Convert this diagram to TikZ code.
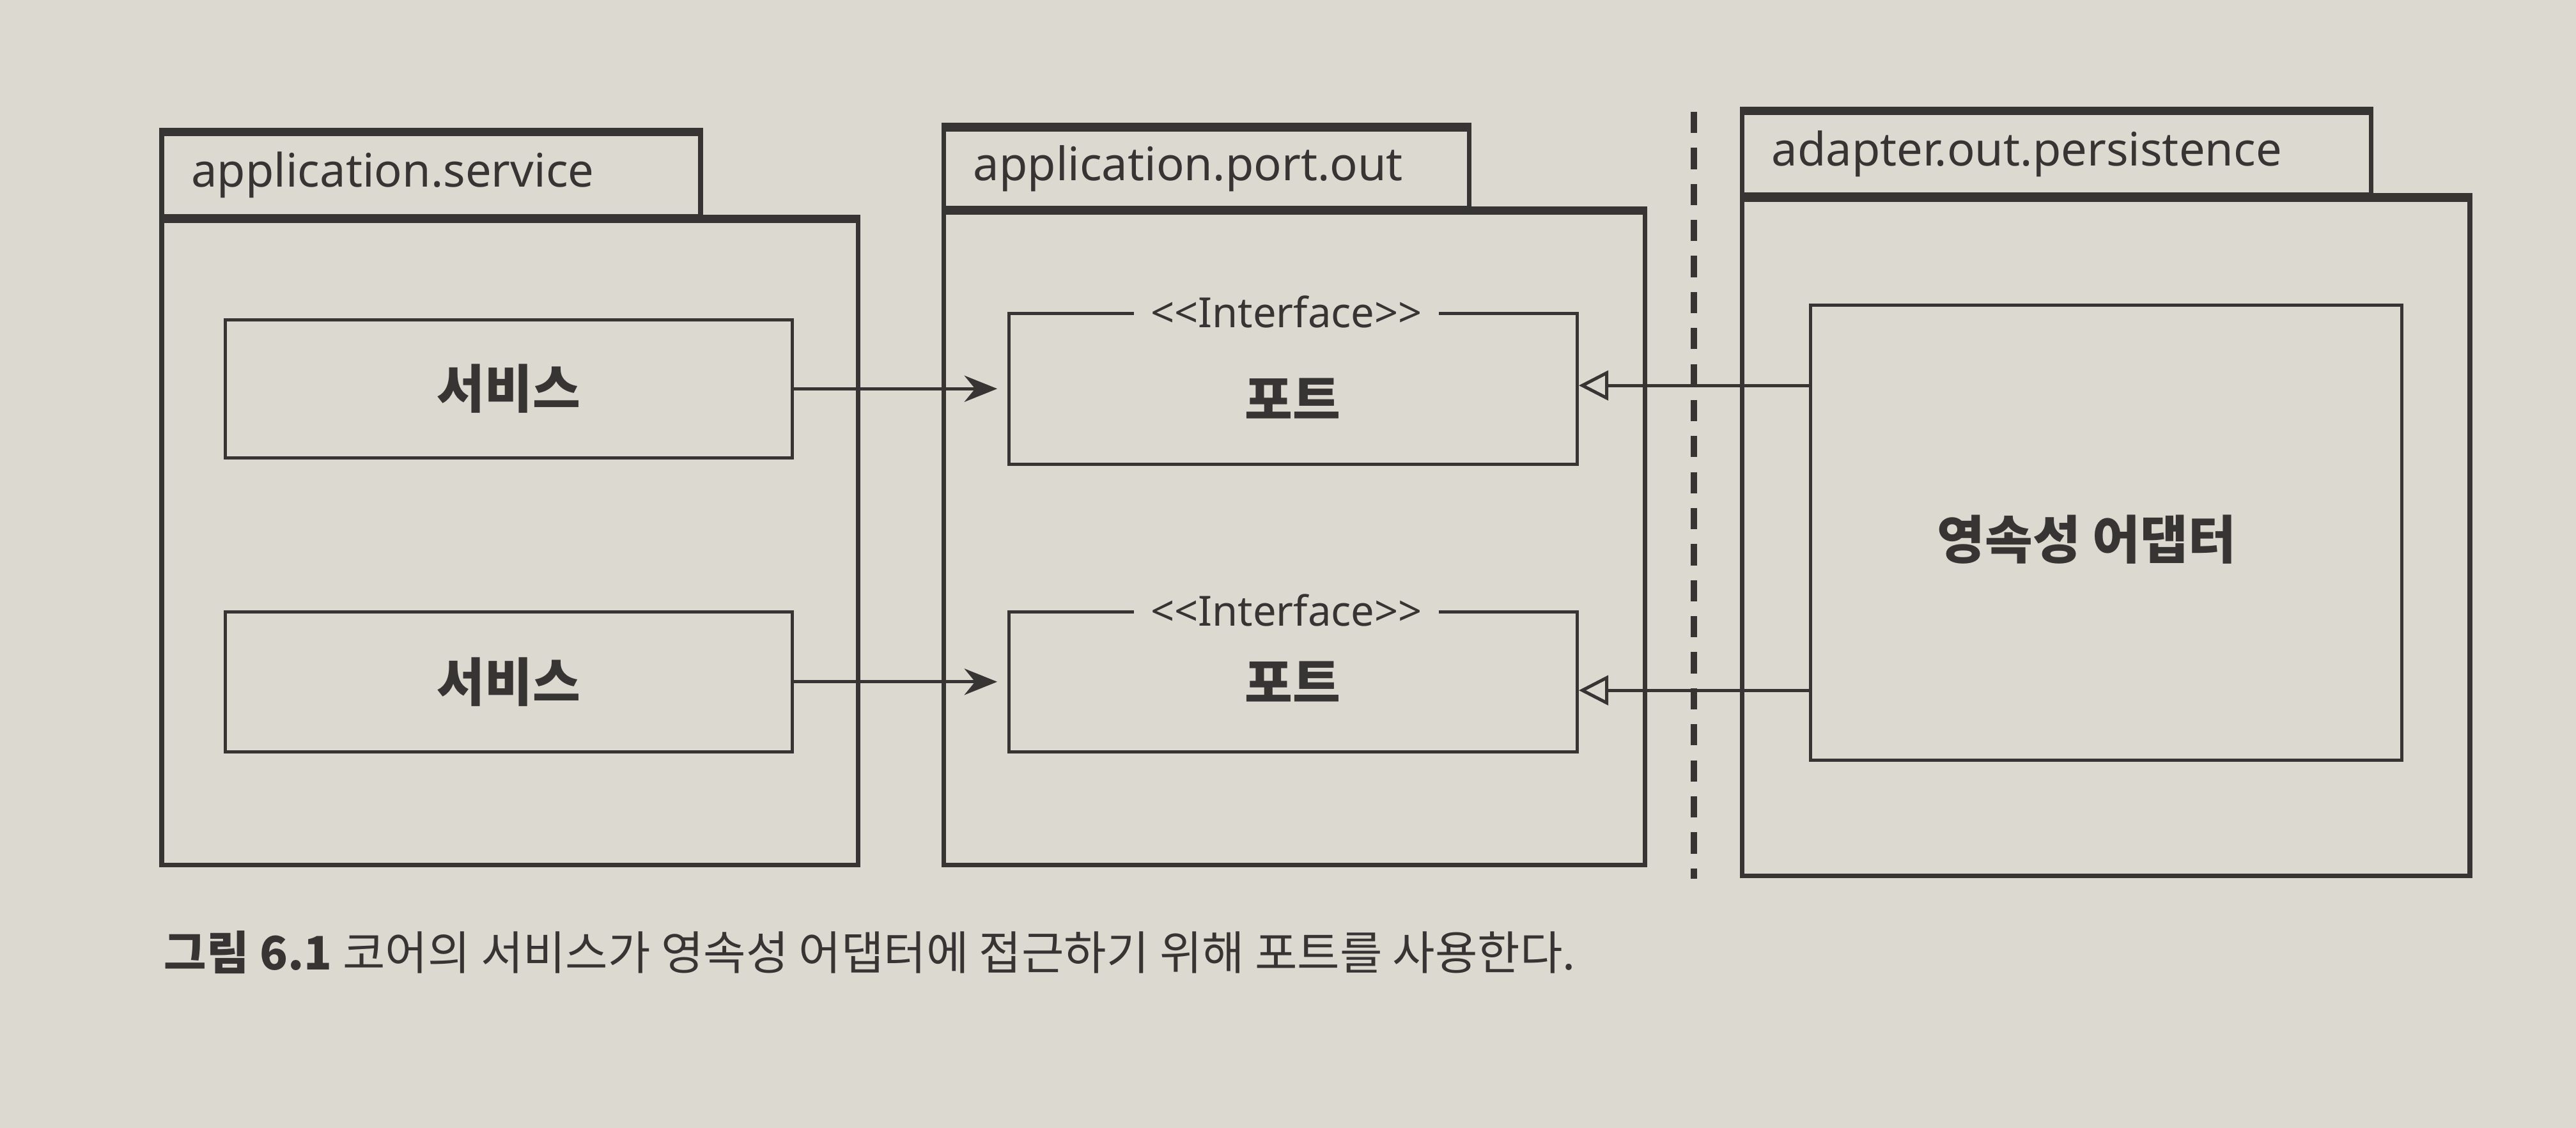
\documentclass[tikz,border=0pt]{standalone}
\usepackage{fontspec}
\setmainfont{Noto Sans}
\newfontfamily\kr{Noto Sans CJK KR}
\usetikzlibrary{arrows.meta,positioning}
\definecolor{paper}{RGB}{220,217,209}
\definecolor{ink}{RGB}{55,52,52}
\tikzset{
  pkgtab/.style={draw=ink, line width=2pt, anchor=south west, minimum height=1.25cm,
    inner xsep=0.45cm, align=left, font=\fontsize{20}{24}\selectfont, text=ink},
  pkgbody/.style={draw=ink, line width=2pt, anchor=north west},
  pkgtop/.style={draw=ink, line width=3.5pt},
  classbox/.style={draw=ink, line width=1.4pt, font=\kr\bfseries\fontsize{22.5}{27}\selectfont, text=ink},
  stereo/.style={fill=paper, inner xsep=0.25cm, inner ysep=0pt, font=\fontsize{18}{22}\selectfont, text=ink},
  uses/.style={draw=ink, line width=1.4pt, -{Stealth[length=0.5cm, width=0.4cm]}, shorten >=0.15cm},
  realizes/.style={draw=ink, line width=1.4pt, -{Triangle[open, length=0.45cm, width=0.45cm, fill=paper]}}
}
\begin{document}
\begin{tikzpicture}
  \useasboundingbox[fill=paper] (0,0) rectangle (39.2,17.167);
  \node[pkgtab, text width=7.3cm] (svcTab) at (2.425,13.84) {application.service};
  \node[pkgbody, minimum width=10.6cm, minimum height=9.8cm] (svcPkg) at (svcTab.south west) {};
  \draw[pkgtop] (svcTab.north west) -- (svcTab.north east);
  \draw[pkgtop] (svcPkg.north west) -- (svcPkg.north east);
  \node[pkgtab, text width=7.1cm, minimum height=1.2cm] (portTab) at (14.325,13.965) {application.port.out};
  \node[pkgbody, minimum width=10.675cm, minimum height=9.925cm] (portPkg) at (portTab.south west) {};
  \draw[pkgtop] (portTab.north west) -- (portTab.north east);
  \draw[pkgtop] (portPkg.north west) -- (portPkg.north east);
  \node[pkgtab, text width=8.675cm] (adpTab) at (26.475,14.165) {adapter.out.persistence};
  \node[pkgbody, minimum width=11.075cm, minimum height=10.295cm] (adpPkg) at (adpTab.south west) {};
  \draw[pkgtop] (adpTab.north west) -- (adpTab.north east);
  \draw[pkgtop] (adpPkg.north west) -- (adpPkg.north east);
  \coordinate (cutTop) at (25.775,15.465);
  \coordinate (cutBot) at (25.775,3.79);
  \draw[ink, line width=2.8pt, dash pattern=on 9.2pt off 6.4pt] (cutTop) -- (cutBot);
  \node[classbox, minimum width=8.63cm, minimum height=2.1cm] (svc1) at (7.74,11.25) {서비스};
  \node[classbox, minimum width=8.63cm, minimum height=2.125cm] (svc2) at (7.74,6.79) {서비스};
  \node[classbox, minimum width=8.65cm, minimum height=2.3cm] (port1) at (19.675,11.25) {};
  \node[classbox, minimum width=8.65cm, minimum height=2.125cm] (port2) at (19.675,6.79) {};
  \node[classbox, draw=none] (port1name) at ([yshift=-0.15cm]port1.center) {포트};
  \node[classbox, draw=none] (port2name) at (port2.center) {포트};
  \node[stereo] (port1st) at ([xshift=-0.1cm]port1.north) {<{}<Interface>{}>};
  \node[stereo] (port2st) at ([xshift=-0.1cm]port2.north) {<{}<Interface>{}>};
  \node[classbox, minimum width=9cm, minimum height=6.925cm] (adapter) at (32.05,9.055) {};
  \node[classbox, draw=none] (adaptername) at ([xshift=-0.3cm, yshift=-0.1cm]adapter.center) {영속성 어댑터};
  \draw[uses] (svc1.east) -- (port1.west |- svc1.east);
  \draw[uses] (svc2.east) -- (port2.west |- svc2.east);
  \draw[realizes] ([yshift=0.05cm]adapter.west |- port1.east) -- ([yshift=0.05cm]port1.east);
  \draw[realizes] ([yshift=-0.13cm]adapter.west |- port2.east) -- ([yshift=-0.13cm]port2.east);
  \node[anchor=west, text=ink, font=\kr\fontsize{20}{24}\selectfont] (caption) at (2.375,2.67)
    {\bfseries 그림 6.1 \mdseries 코어의 서비스가 영속성 어댑터에 접근하기 위해 포트를 사용한다.};
\end{tikzpicture}
\end{document}
